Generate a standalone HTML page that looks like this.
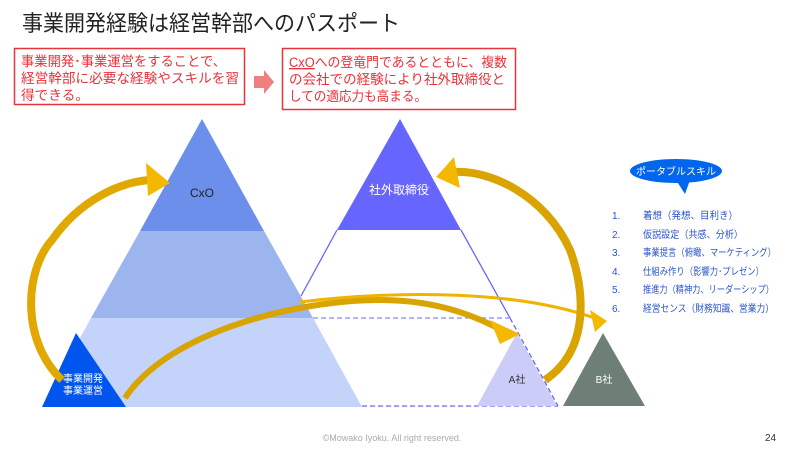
<!DOCTYPE html>
<html><head><meta charset="utf-8"><style>
html,body{margin:0;padding:0;background:#fff;width:790px;height:450px;overflow:hidden}
svg{display:block}
text{font-family:"Liberation Sans","Noto Sans CJK JP",sans-serif}
</style></head><body>
<svg width="790" height="450" viewBox="0 0 790 450" xmlns="http://www.w3.org/2000/svg">
<text x="22" y="31" font-size="22" fill="#222" textLength="378" lengthAdjust="spacingAndGlyphs">事業開発経験は経営幹部へのパスポート</text>
<rect x="14.5" y="48.5" width="230" height="56" fill="#fff" stroke="#e8323c" stroke-width="1.5"/>
<g font-size="13.5" fill="#e8323c">
<text x="21" y="66" textLength="205" lengthAdjust="spacingAndGlyphs">事業開発･事業運営をすることで、</text>
<text x="21" y="83" textLength="218" lengthAdjust="spacingAndGlyphs">経営幹部に必要な経験やスキルを習</text>
<text x="21" y="100" textLength="68" lengthAdjust="spacingAndGlyphs">得できる。</text>
</g>
<polygon points="254,76 264,76 264,70 274,82 264,94 264,88 254,88" fill="#f08080"/>
<rect x="282.5" y="48.5" width="233" height="61" fill="#fff" stroke="#e8323c" stroke-width="1.5"/>
<g font-size="13.5" fill="#e8323c">
<text x="289" y="67" textLength="218" lengthAdjust="spacingAndGlyphs"><tspan text-decoration="underline">CxO</tspan>への登竜門であるとともに、複数</text>
<text x="289" y="84" textLength="216" lengthAdjust="spacingAndGlyphs">の会社での経験により社外取締役と</text>
<text x="289" y="101" textLength="138" lengthAdjust="spacingAndGlyphs">しての適応力も高まる。</text>
</g>

<polygon points="202,119 264,231 140,231" fill="#6b8fea"/>
<polygon points="140,231 264,231 313,318 91,318" fill="#9db5ee"/>
<polygon points="91,318 313,318 362,407 42,407" fill="#c3d3fa"/>
<text x="202" y="197" font-size="12" fill="#222" text-anchor="middle">CxO</text>

<polygon points="400,119 461,230 337,230" fill="#6666ff"/>
<line x1="337" y1="230" x2="301" y2="296" stroke="#6666ff" stroke-width="1.3"/>
<line x1="461" y1="230" x2="510" y2="318" stroke="#6666ff" stroke-width="1.3"/>
<line x1="510" y1="318" x2="558" y2="406" stroke="#6666ff" stroke-width="1.3" stroke-dasharray="5,3"/>
<line x1="313" y1="318" x2="510" y2="318" stroke="#8888ff" stroke-width="1.3" stroke-dasharray="5,3"/>
<line x1="362" y1="406" x2="558" y2="406" stroke="#6666ff" stroke-width="1.3" stroke-dasharray="5,3"/>
<text x="399" y="194" font-size="12" fill="#fff" text-anchor="middle">社外取締役</text>

<polygon points="517,333 557,406 477,406" fill="#ccccf8"/>
<text x="517" y="383" font-size="10" fill="#333" text-anchor="middle">A社</text>
<polygon points="603,333 645,406 563,406" fill="#6e8076"/>
<text x="604" y="383" font-size="10" fill="#fff" text-anchor="middle">B社</text>

<polygon points="76,333 126,407 42,407" fill="#0055ee"/>
<text font-size="10" fill="#fff" text-anchor="middle"><tspan x="83" y="382">事業開発</tspan><tspan x="83" y="394">事業運営</tspan></text>

<path d="M62,380 C20,340 25,270 52,240 C80,200 120,182 150,180" fill="none" stroke="#e0a800" stroke-width="8"/>
<polygon points="146,163 170,183 148,196" fill="#f5b800"/>
<path d="M125,398 C170,330 300,300 380,300 C440,300 480,318 505,332" fill="none" stroke="#d9a300" stroke-width="6"/>
<polygon points="490,320 520,334 500,344" fill="#f5b800"/>
<path d="M300,302 C400,290 520,290 600,320" fill="none" stroke="#f0b400" stroke-width="3"/>
<polygon points="590,310 607,321 595,332" fill="#f5b800"/>
<path d="M545,380 C590,350 585,290 570,250 C545,195 490,170 455,172" fill="none" stroke="#d9a300" stroke-width="8"/>
<polygon points="454,157 436,177 460,188" fill="#f5b800"/>

<ellipse cx="676" cy="171" rx="46" ry="12" fill="#0066ee"/>
<polygon points="676,180 690,180 685,194" fill="#0066ee"/>
<text x="676" y="175" font-size="10" fill="#fff" text-anchor="middle">ポータブルスキル</text>
<g font-size="10" fill="#2a55cc" lengthAdjust="spacingAndGlyphs">
<text x="612" y="219">1.</text><text x="643" y="219" textLength="95" lengthAdjust="spacingAndGlyphs">着想（発想、目利き）</text>
<text x="612" y="238">2.</text><text x="643" y="238" textLength="100" lengthAdjust="spacingAndGlyphs">仮説設定（共感、分析）</text>
<text x="612" y="256">3.</text><text x="643" y="256" textLength="133" lengthAdjust="spacingAndGlyphs">事業提言（俯瞰、マーケティング）</text>
<text x="612" y="275">4.</text><text x="643" y="275" textLength="121" lengthAdjust="spacingAndGlyphs">仕組み作り（影響力･プレゼン）</text>
<text x="612" y="293">5.</text><text x="643" y="293" textLength="131" lengthAdjust="spacingAndGlyphs">推進力（精神力、リーダーシップ）</text>
<text x="612" y="312">6.</text><text x="643" y="312" textLength="131" lengthAdjust="spacingAndGlyphs">経営センス（財務知識、営業力）</text>
</g>
<text x="392" y="441" font-size="9" fill="#aaa" text-anchor="middle">©Mowako Iyoku. All right reserved.</text>
<text x="765" y="441" font-size="10" fill="#333">24</text>
</svg>
</body></html>
